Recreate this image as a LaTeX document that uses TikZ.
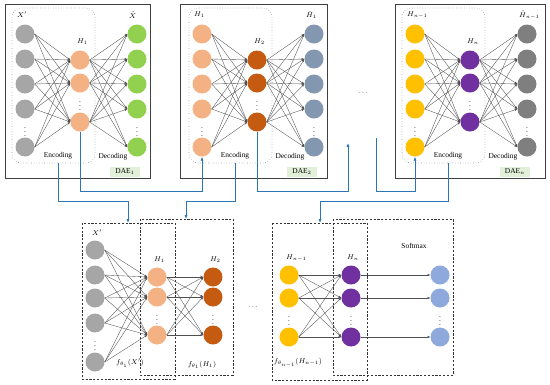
\documentclass[tikz,border=0pt]{standalone}
\usepackage{fontspec}
\setmainfont{Liberation Serif}
\usetikzlibrary{arrows.meta}
\definecolor{ingray}{HTML}{A6A6A6}
\definecolor{cgreen}{HTML}{92D050}
\definecolor{lorange}{HTML}{F4B183}
\definecolor{dorange}{HTML}{C55A11}
\definecolor{bluegray}{HTML}{8497B0}
\definecolor{cyellow}{HTML}{FFC000}
\definecolor{cpurple}{HTML}{7030A0}
\definecolor{dgray}{HTML}{7F7F7F}
\definecolor{softblue}{HTML}{8EA9DB}
\definecolor{daegreen}{HTML}{E2F0D9}
\definecolor{linkblue}{HTML}{2E75B6}
\definecolor{edgegray}{HTML}{505050}
\definecolor{boxgray}{HTML}{404040}
\definecolor{dotgray}{HTML}{9AA0A8}

\newcommand\daepanel[9]{%
\begin{scope}[xshift=#2pt]
\draw[encbox] (12,8) rectangle (95,163);
\coordinate (#1enc) at (58,163);
\foreach \k/\yy in {1/34,2/59,3/84,4/109,5/147}{
  \node[neuron, fill=#3] (#1i\k) at (25,\yy) {};
  \node[neuron, fill=#5] (#1o\k) at (137,\yy) {};
}
\foreach \k/\yy in {1/60,2/83,3/122}{
  \node[neuron, fill=#4] (#1h\k) at (80,\yy) {};
}
\foreach \a in {1,...,5}{
  \foreach \b in {1,2,3}{
    \draw[nnedge] (#1i\a.east) -- (#1h\b.west);
    \draw[nnedge] (#1h\b.east) -- (#1o\a.west);
  }
}
\node[lbl] (#1di) at (25,129) {$\vdots$};
\node[lbl] (#1dh) at (80,103) {$\vdots$};
\node[lbl] (#1do) at (137,129) {$\vdots$};
\node[lbl, anchor=west] (#1li) at (17,15) {#6};
\node[lbl, anchor=west] (#1lh) at (77,42) {#7};
\node[lbl, anchor=west] (#1lo) at (129,15) {#8};
\node[lbl] (#1enctext) at (58,156) {Encoding};
\node[lbl] (#1dectext) at (113,157) {Decoding};
\node[daebox] (#1dae) at (125,172) {#9};
\end{scope}}

\begin{document}
\begin{tikzpicture}[x=1pt,y=-1pt,
  neuron/.style={circle, minimum size=19pt, inner sep=0pt, draw=none},
  nnedge/.style={draw=edgegray, line width=0.35pt, -{Latex[length=2.6pt,width=2.2pt]}},
  blueline/.style={draw=linkblue, line width=0.9pt},
  bluearrow/.style={blueline, -{Latex[length=4pt,width=3.2pt]}},
  outerbox/.style={draw=boxgray, line width=1pt},
  encbox/.style={draw=dotgray, dotted, rounded corners=9pt, line width=0.6pt},
  dashbox/.style={draw=black!80, dash pattern=on 2.2pt off 1.6pt, line width=0.65pt},
  lbl/.style={font=\fontsize{7.4}{8}\selectfont, inner sep=0pt},
  daebox/.style={fill=daegreen, font=\fontsize{7.4}{8}\selectfont, minimum width=30pt, minimum height=10pt, inner sep=0pt}
]
\useasboundingbox (0,0) rectangle (550,384);

% outer boxes
\draw[outerbox] (5,4) rectangle (150,178);
\draw[outerbox] (180,4) rectangle (327,178);
\draw[outerbox] (395,4) rectangle (545,178);

\daepanel{pa}{0}{ingray}{lorange}{cgreen}{$X'$}{$H_1$}{$\hat{X}$}{DAE$_1$}
\daepanel{pb}{177}{lorange}{dorange}{bluegray}{$H_1$}{$H_2$}{$\hat{H}_1$}{DAE$_2$}
\daepanel{pc}{390}{cyellow}{cpurple}{dgray}{$H_{n-1}$}{$H_n$}{$\hat{H}_{n-1}$}{DAE$_n$}

\node[lbl] (midgap) at (363,93) {$\cdots$};

% bottom dashed boxes
\draw[dashbox] (82,223) rectangle (175,379);
\draw[dashbox] (140,219) rectangle (233,375);
\draw[dashbox] (272,223) rectangle (367,380);
\draw[dashbox] (333,219) rectangle (453,375);

% bottom group 1
\foreach \k/\yy in {1/250,2/275,3/298,4/323,5/362}{
  \node[neuron, fill=ingray] (qx\k) at (95,\yy) {};
}
\foreach \k/\yy in {1/277,2/297,3/335}{
  \node[neuron, fill=lorange] (qh\k) at (157,\yy) {};
  \node[neuron, fill=dorange] (qk\k) at (213,\yy) {};
}
\foreach \a in {1,...,5}{
  \foreach \b in {1,2,3}{
    \draw[nnedge] (qx\a.east) -- (qh\b.west);
  }
}
\foreach \a in {1,2,3}{
  \foreach \b in {1,2,3}{
    \draw[nnedge] (qh\a.east) -- (qk\b.west);
  }
}
\node[lbl] (qdx) at (95,343) {$\vdots$};
\node[lbl] (qdh) at (157,317) {$\vdots$};
\node[lbl] (qdk) at (213,317) {$\vdots$};
\node[lbl, anchor=west] (qlx) at (92,233) {$X'$};
\node[lbl, anchor=west] (qlh) at (154,260) {$H_1$};
\node[lbl, anchor=west] (qlk) at (210,260) {$H_2$};
\node[lbl] (qf1) at (130,363) {$f_{\theta_1}(X')$};
\node[lbl] (qf2) at (202,365) {$f_{\theta_1}(H_1)$};

\node[lbl] (botgap) at (253,307) {$\cdots$};

% bottom group 2
\foreach \k/\yy in {1/275,2/298,3/337}{
  \node[neuron, fill=cyellow] (ra\k) at (289,\yy) {};
  \node[neuron, fill=cpurple] (rb\k) at (351,\yy) {};
  \node[neuron, fill=softblue] (rs\k) at (440,\yy) {};
}
\foreach \a in {1,2,3}{
  \foreach \b in {1,2,3}{
    \draw[nnedge] (ra\a.east) -- (rb\b.west);
  }
  \draw[nnedge] (rb\a.east) -- (rs\a.west);
}
\node[lbl] (rda) at (289,318) {$\vdots$};
\node[lbl] (rdb) at (351,318) {$\vdots$};
\node[lbl] (rds) at (440,318) {$\vdots$};
\node[lbl, anchor=west] (rla) at (286,258) {$H_{n-1}$};
\node[lbl, anchor=west] (rlb) at (347,258) {$H_n$};
\node[lbl] (rsm) at (414,246) {Softmax};
\node[lbl] (rf) at (298,363) {$f_{\theta_{n-1}}(H_{n-1})$};

% blue connectors
\coordinate (lvA) at (0,191);
\coordinate (lvB) at (0,201);
\coordinate (tA) at (128,223);
\coordinate (tB) at (186,219);
\coordinate (tC) at (320,223);
\coordinate (gapup) at (348,143);
\coordinate (gapdown) at (376,138);

\draw[bluearrow] (paenc) -- (paenc |- lvB) -| (tA);
\draw[bluearrow] (pah3.south) -- (pah3.south |- lvA) -| (pbi5.south);
\draw[bluearrow] (pbenc) -- (pbenc |- lvB) -| (tB);
\draw[bluearrow] (pbh3.south) -- (pbh3.south |- lvA) -| (gapup);
\draw[bluearrow] (gapdown) -- (gapdown |- lvA) -| (pci5.south);
\draw[bluearrow] (pcenc) -- (pcenc |- lvB) -| (tC);
\end{tikzpicture}
\end{document}
